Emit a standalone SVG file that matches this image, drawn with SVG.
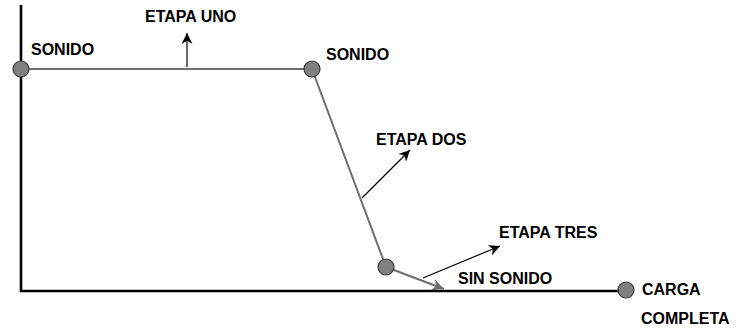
<svg xmlns="http://www.w3.org/2000/svg" width="736" height="331" viewBox="0 0 736 331">
  <style>
    .lbl { font-family: "Liberation Sans", Arial, Helvetica, sans-serif; font-weight: bold; font-size: 16px; fill: #000; }
    .axis { stroke: #000; stroke-width: 2.6; fill: none; }
    .curve { stroke: #6e6e6e; stroke-width: 2; fill: none; }
    .pointer { stroke: #000; stroke-width: 1.2; fill: none; }
    .pt { fill: #808080; stroke: #3a3a3a; stroke-width: 1.2; }
  </style>
  <defs>
    <marker id="blackHead" viewBox="0 0 10 10" refX="10" refY="5" markerWidth="14" markerHeight="11" markerUnits="userSpaceOnUse" orient="auto">
      <path d="M0,0 L10,5 L0,10 L3,5 z" fill="#000"/>
    </marker>
    <marker id="grayHead" viewBox="0 0 10 10" refX="10" refY="5" markerWidth="18" markerHeight="12" markerUnits="userSpaceOnUse" orient="auto">
      <path d="M0,0 L10,5 L0,10 L3,5 z" fill="#6e6e6e"/>
    </marker>
  </defs>

  <!-- axes -->
  <g id="axes">
    <line class="axis" x1="21" y1="5" x2="21" y2="292"/>
    <line class="axis" x1="20" y1="291" x2="620" y2="291"/>
  </g>

  <!-- charge curve and stage pointers -->
  <g id="connectors">
    <line class="curve" x1="21" y1="69" x2="312" y2="69"/>
    <line class="curve" x1="312" y1="69" x2="386" y2="267"/>
    <line class="curve" x1="386" y1="267" x2="444" y2="289" marker-end="url(#grayHead)"/>
    <line class="pointer" x1="187" y1="67" x2="187" y2="33" marker-end="url(#blackHead)"/>
    <line class="pointer" x1="362" y1="198" x2="410" y2="150" marker-end="url(#blackHead)"/>
    <line class="pointer" x1="423" y1="278" x2="500" y2="246" marker-end="url(#blackHead)"/>
  </g>

  <g id="point-start">
    <circle class="pt" cx="21" cy="69" r="8"/>
    <text class="lbl" x="31" y="55">SONIDO</text>
  </g>
  <g id="point-drop">
    <circle class="pt" cx="312" cy="69" r="8"/>
    <text class="lbl" x="326" y="60">SONIDO</text>
  </g>
  <g id="point-silent">
    <circle class="pt" cx="386" cy="267" r="8"/>
  </g>
  <g id="point-full">
    <circle class="pt" cx="626" cy="290" r="8"/>
    <text class="lbl" x="642" y="295">CARGA</text>
    <text class="lbl" x="641" y="324">COMPLETA</text>
  </g>

  <g id="stage-one">
    <text class="lbl" x="145" y="22">ETAPA UNO</text>
  </g>
  <g id="stage-two">
    <text class="lbl" x="376" y="145">ETAPA DOS</text>
  </g>
  <g id="stage-three">
    <text class="lbl" x="499" y="238">ETAPA TRES</text>
    <text class="lbl" x="458" y="284">SIN SONIDO</text>
  </g>
</svg>
